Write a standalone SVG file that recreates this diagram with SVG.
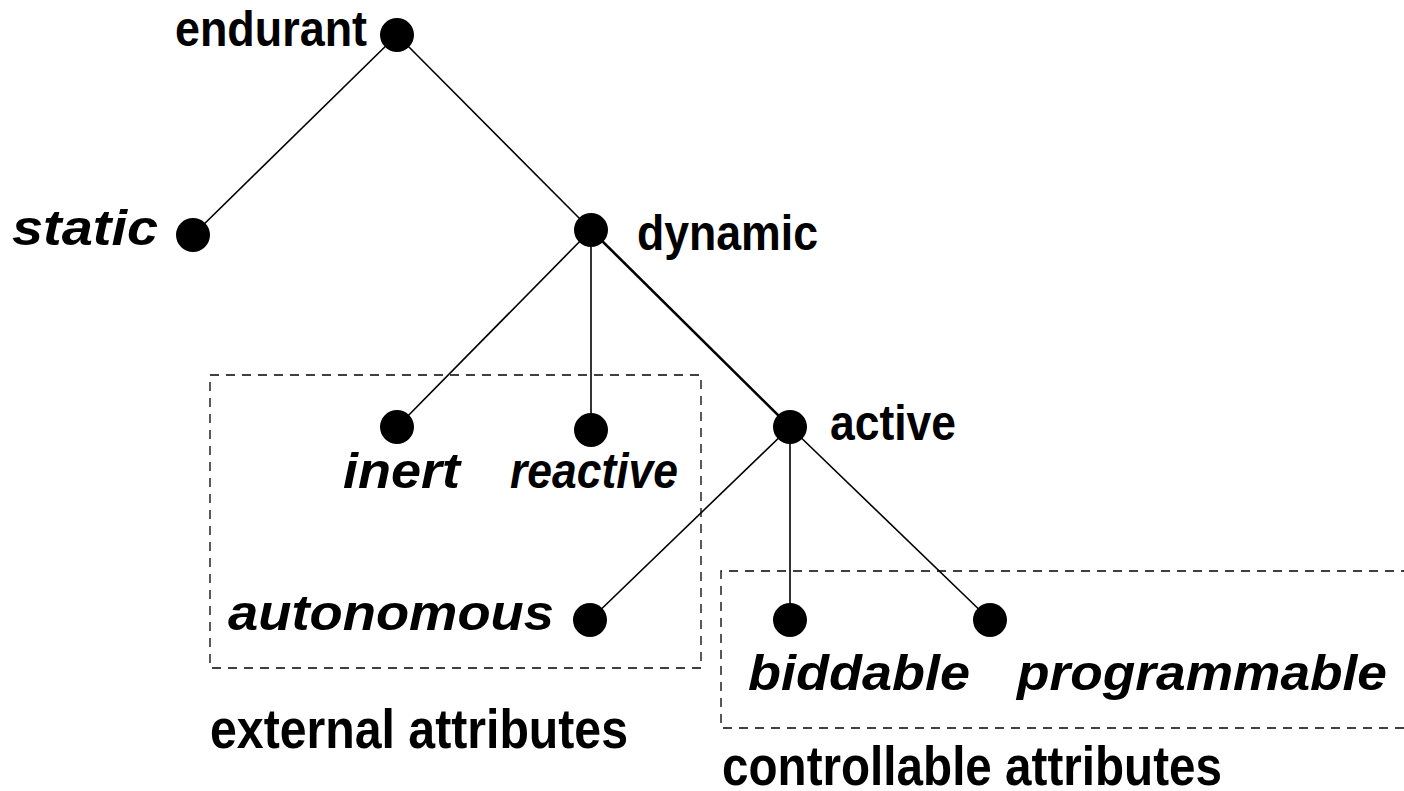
<svg xmlns="http://www.w3.org/2000/svg" width="1404" height="791" viewBox="0 0 1404 791">
<style>
.lbl{font-family:"Liberation Sans",Arial,sans-serif;font-weight:bold;font-size:50px;fill:#000}
.big{font-size:55px}
.it{font-style:italic}
.dot{fill:#000}
.edge{stroke:#000;stroke-width:1.6;fill:none}
.box{stroke:#000;stroke-width:1.3;fill:none;stroke-dasharray:9 7}
</style>
<rect width="1404" height="791" fill="#fff"/>
<g id="connectors">
<line class="edge" x1="397" y1="35" x2="193" y2="235"/>
<line class="edge" x1="397" y1="35" x2="591" y2="230"/>
<line class="edge" x1="591" y1="230" x2="397" y2="427"/>
<line class="edge" x1="591" y1="230" x2="591" y2="430"/>
<line class="edge" x1="591" y1="230" x2="790" y2="427" style="stroke-width:2.6"/>
<line class="edge" x1="790" y1="427" x2="590" y2="620"/>
<line class="edge" x1="790" y1="427" x2="790" y2="620"/>
<line class="edge" x1="790" y1="427" x2="990" y2="620"/>
</g>
<g id="group-external">
<rect class="box" x="210" y="375" width="491" height="293"/>
<text class="lbl big" x="210" y="748" textLength="418" lengthAdjust="spacingAndGlyphs">external attributes</text>
</g>
<g id="group-controllable">
<path class="box" d="M1410 571 H721 V728 H1410"/>
<text class="lbl big" x="722" y="785" textLength="500" lengthAdjust="spacingAndGlyphs">controllable attributes</text>
</g>
<g id="node-endurant">
<circle class="dot" cx="397" cy="35" r="17"/>
<text class="lbl" x="175" y="46" textLength="192" lengthAdjust="spacingAndGlyphs">endurant</text>
</g>
<g id="node-static">
<circle class="dot" cx="193" cy="235" r="17"/>
<text class="lbl it" x="12" y="245" textLength="146" lengthAdjust="spacingAndGlyphs">static</text>
</g>
<g id="node-dynamic">
<circle class="dot" cx="591" cy="230" r="17"/>
<text class="lbl" x="637" y="250" textLength="181" lengthAdjust="spacingAndGlyphs">dynamic</text>
</g>
<g id="node-active">
<circle class="dot" cx="790" cy="427" r="17"/>
<text class="lbl" x="830" y="440" textLength="126" lengthAdjust="spacingAndGlyphs">active</text>
</g>
<g id="node-inert">
<circle class="dot" cx="397" cy="427" r="17"/>
<text class="lbl it" x="343" y="488" textLength="117" lengthAdjust="spacingAndGlyphs">inert</text>
</g>
<g id="node-reactive">
<circle class="dot" cx="591" cy="430" r="17"/>
<text class="lbl it" x="510" y="488" textLength="168" lengthAdjust="spacingAndGlyphs">reactive</text>
</g>
<g id="node-autonomous">
<circle class="dot" cx="590" cy="620" r="17"/>
<text class="lbl it" x="228" y="630" textLength="326" lengthAdjust="spacingAndGlyphs">autonomous</text>
</g>
<g id="node-biddable">
<circle class="dot" cx="790" cy="620" r="17"/>
<text class="lbl it" x="748" y="690" textLength="222" lengthAdjust="spacingAndGlyphs">biddable</text>
</g>
<g id="node-programmable">
<circle class="dot" cx="990" cy="620" r="17"/>
<text class="lbl it" x="1017" y="690" textLength="370" lengthAdjust="spacingAndGlyphs">programmable</text>
</g>
</svg>
